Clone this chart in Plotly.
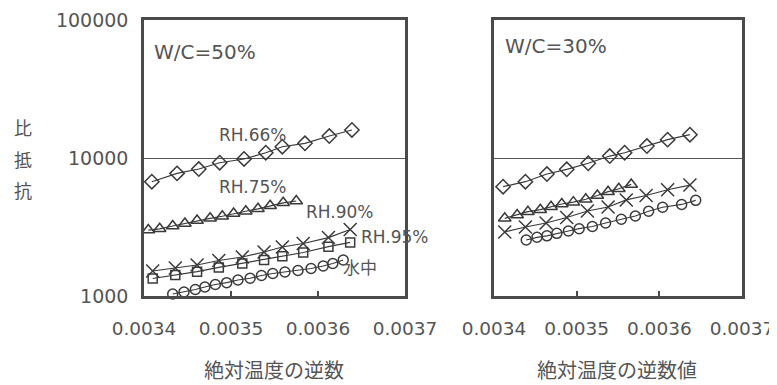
import plotly.graph_objects as go

# ---------------- data ----------------
# W/C = 50 %
x50_rh66 = [0.003409, 0.003438, 0.003463, 0.003487, 0.003515, 0.003540, 0.003559, 0.003585, 0.003613, 0.003639]
y50_rh66 = [6730, 7740, 8320, 9240, 9840, 10920, 12070, 12780, 14430, 15960]

x50_rh75 = [0.003405, 0.003418, 0.003433, 0.003447, 0.003461, 0.003476, 0.003490, 0.003503, 0.003517, 0.003531, 0.003545, 0.003560, 0.003575]
y50_rh75 = [3006, 3069, 3216, 3352, 3523, 3655, 3783, 3963, 4115, 4285, 4505, 4735, 4877]

x50_rh90 = [0.003410, 0.003436, 0.003461, 0.003486, 0.003513, 0.003538, 0.003559, 0.003583, 0.003612, 0.003637]
y50_rh90 = [1517, 1596, 1678, 1808, 1917, 2084, 2265, 2400, 2652, 3034]

x50_rh95 = [0.003410, 0.003436, 0.003461, 0.003486, 0.003513, 0.003538, 0.003559, 0.003583, 0.003612, 0.003637]
y50_rh95 = [1339, 1420, 1500, 1610, 1722, 1824, 1941, 2066, 2276, 2444]

x50_water = [0.003433, 0.003446, 0.003459, 0.003470, 0.003482, 0.003495, 0.003508, 0.003522, 0.003535, 0.003548,
             0.003562, 0.003577, 0.003592, 0.003606, 0.003617, 0.003629]
y50_water = [1034, 1069, 1115, 1162, 1212, 1249, 1306, 1344, 1408, 1456, 1493, 1531, 1583, 1650, 1720, 1824]

# W/C = 30 %
x30_rh66 = [0.003411, 0.003438, 0.003464, 0.003488, 0.003514, 0.003540, 0.003558, 0.003585, 0.003610, 0.003637]
y30_rh66 = [6197, 6733, 7652, 8279, 9154, 10330, 10920, 12210, 13580, 14760]

x30_rh75 = [0.003413, 0.003428, 0.003441, 0.003456, 0.003469, 0.003482, 0.003496, 0.003511, 0.003525, 0.003538, 0.003551, 0.003566]
y30_rh75 = [3656, 3862, 4081, 4222, 4435, 4643, 4786, 5023, 5350, 5700, 5985, 6433]

x30_rh90 = [0.003413, 0.003438, 0.003463, 0.003488, 0.003513, 0.003538, 0.003560, 0.003584, 0.003610, 0.003637]
y30_rh90 = [2911, 3163, 3382, 3707, 4130, 4416, 4966, 5350, 5891, 6368]

x30_water = [0.003439, 0.003452, 0.003464, 0.003476, 0.003490, 0.003503, 0.003519, 0.003535, 0.003554, 0.003571,
             0.003587, 0.003604, 0.003627, 0.003644]
y30_water = [2546, 2663, 2730, 2845, 2957, 3074, 3190, 3382, 3597, 3801, 4113, 4397, 4606, 4933]

x_ticks = [0.0034, 0.0035, 0.0036, 0.0037]
x_tick_text = ["0.0034", "0.0035", "0.0036", "0.0037"]
y_ticks = [1000, 10000, 100000]
y_tick_text = ["1000", "10000", "100000"]

# ---------------- style ----------------
INK = "#3a3a3a"
TXT = "#555555"
FONT = "DejaVu Sans, Noto Sans CJK JP, sans-serif"

# page body has an 8px default margin -> figure is 8px smaller and shifted
OFF = 8
W, H = 777 - OFF, 385 - OFF


def px_x(p):
    return (p - OFF) / W


def px_y(p):
    return 1 - (p - OFF) / H


fig = go.Figure()


def add(x, y, symbol, size, xa, ya):
    fig.add_trace(go.Scatter(
        x=x, y=y, mode="lines+markers", xaxis=xa, yaxis=ya,
        line=dict(color=INK, width=1.2),
        marker=dict(symbol=symbol, size=size, color=INK,
                    line=dict(color=INK, width=1.5)),
        showlegend=False, cliponaxis=False,
    ))


add(x50_rh66, y50_rh66, "diamond-open", 11, "x", "y")
add(x50_rh75, y50_rh75, "triangle-up-open", 11, "x", "y")
add(x50_rh90, y50_rh90, "x-thin-open", 13, "x", "y")
add(x50_rh95, y50_rh95, "square-open", 9, "x", "y")
add(x50_water, y50_water, "circle-open", 10, "x", "y")

add(x30_rh66, y30_rh66, "diamond-open", 11, "x2", "y2")
add(x30_rh75, y30_rh75, "triangle-up-open", 11, "x2", "y2")
add(x30_rh90, y30_rh90, "x-thin-open", 13, "x2", "y2")
add(x30_water, y30_water, "circle-open", 10, "x2", "y2")

xcommon = dict(range=[0.0034, 0.0037], tickvals=x_ticks, ticktext=x_tick_text,
               showline=True, mirror=True, linecolor="#4a4a4a", linewidth=2.5,
               ticks="inside", ticklen=5, tickcolor="#4a4a4a", tickwidth=1.5,
               showgrid=False, zeroline=False, ticklabelstandoff=14, automargin=False,
               ticklabeloverflow="allow",
               tickfont=dict(family=FONT, size=18.5, color=TXT))
ycommon = dict(type="log", range=[3, 5], tickvals=y_ticks, ticktext=y_tick_text,
               showline=True, mirror=True, linecolor="#4a4a4a", linewidth=2.5,
               ticks="", showgrid=True, gridcolor="#555555", gridwidth=1,
               zeroline=False, ticklabelstandoff=9, automargin=False,
               ticklabeloverflow="allow",
               tickfont=dict(family=FONT, size=19, color=TXT))

fig.update_layout(
    width=W, height=H, autosize=False,
    margin=dict(l=0, r=0, t=0, b=0, pad=0),
    paper_bgcolor="white", plot_bgcolor="white",
    xaxis=dict(domain=[px_x(144), px_x(405)], anchor="y", **xcommon),
    yaxis=dict(domain=[px_y(296), px_y(20)], anchor="x", **ycommon),
    xaxis2=dict(domain=[px_x(494), px_x(742)], anchor="y2", **xcommon),
    yaxis2=dict(domain=[px_y(296), px_y(20)], anchor="x2",
                showticklabels=False, **ycommon),
)

ann = []


def label(text, x, logy, xa, ya, size=17, xanchor="center"):
    ann.append(dict(text=text, x=x, y=logy, xref=xa, yref=ya, showarrow=False,
                    xanchor=xanchor, yanchor="middle",
                    font=dict(family=FONT, size=size, color=TXT)))


label("W/C=50%", 0.003409, 4.768, "x", "y", size=20, xanchor="left")
label("W/C=30%", 0.003411, 4.812, "x2", "y2", size=20, xanchor="left")
label("RH.66%", 0.003525, 4.167, "x", "y")
label("RH.75%", 0.003525, 3.790, "x", "y")
label("RH.90%", 0.003625, 3.609, "x", "y")
label("RH.95%", 0.003647, 3.428, "x", "y", xanchor="left")
label("水中", 0.003627, 3.203, "x", "y", xanchor="left")

# axis titles
for ch, py in [("比", 128), ("抵", 160), ("抗", 191)]:
    ann.append(dict(text=ch, x=px_x(23), y=px_y(py), xref="paper", yref="paper",
                    showarrow=False, xanchor="center", yanchor="middle",
                    font=dict(family=FONT, size=18, color=TXT)))
ann.append(dict(text="絶対温度の逆数", x=px_x(274), y=px_y(371), xref="paper", yref="paper",
                showarrow=False, xanchor="center", yanchor="middle",
                font=dict(family=FONT, size=20, color=TXT)))
ann.append(dict(text="絶対温度の逆数値", x=px_x(617), y=px_y(371), xref="paper", yref="paper",
                showarrow=False, xanchor="center", yanchor="middle",
                font=dict(family=FONT, size=20, color=TXT)))

fig.update_layout(annotations=ann)
fig.write_html("out.html")
